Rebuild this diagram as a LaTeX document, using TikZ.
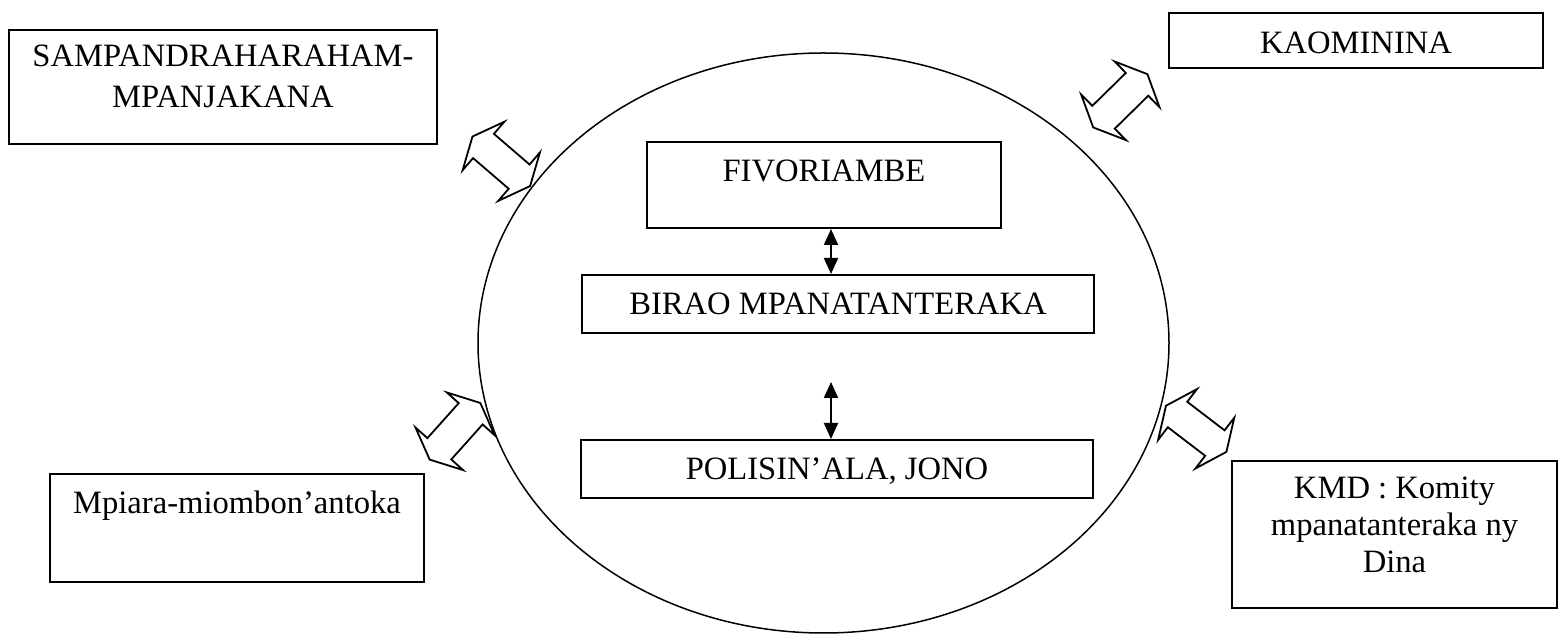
\documentclass[tikz,border=0pt]{standalone}
\usepackage{fontspec}
\setmainfont{Liberation Serif}
\usetikzlibrary{arrows.meta,shapes.geometric}
\begin{document}
\begin{tikzpicture}[x=0.5pt,y=-0.5pt,
  box/.style={draw,line width=1pt,inner sep=0pt,align=center,text height=20pt,font=\fontsize{16.3}{18.5}\selectfont},
  ring/.style={draw,ellipse,line width=0.75pt,inner sep=0pt,minimum width=345.5pt,minimum height=290pt},
  biarrow/.style={line width=1pt,{Triangle[length=8pt,width=7pt]}-{Triangle[length=8pt,width=7pt]}},
  dblarrow/.pic={\draw[line width=0.9pt] (-38,0) -- (-23.5,-32) -- (-23.5,-16) -- (23.5,-16) -- (23.5,-32) -- (38,0) -- (23.5,32) -- (23.5,16) -- (-23.5,16) -- (-23.5,32) -- cycle;}]
\useasboundingbox (0,0) rectangle (1560,640);
\node[ring] (ring) at (823.5,343) {};
\node[box,minimum width=177pt,text depth=23pt] (fivo) at (824,185) {FIVORIAMBE};
\node[box,minimum width=256pt,text depth=9pt] (birao) at (838,304) {BIRAO MPANATANTERAKA};
\node[box,minimum width=256pt,text depth=9pt] (polis) at (837,469) {POLISIN’ALA, JONO};
\node[box,minimum width=214pt,text height=39pt,text depth=18pt] (sampa) at (223,87) {SAMPANDRAHARAHAM-\\[2pt]MPANJAKANA};
\node[box,minimum width=187pt,text height=20.5pt,text depth=7pt] (kaom) at (1356,40.5) {KAOMININA};
\node[box,minimum width=187pt,text depth=34pt] (mpiara) at (237,528) {Mpiara-miombon’antoka};
\node[box,minimum width=162.5pt,text height=56pt,text depth=17.5pt] (kmd) at (1394.5,534.5) {KMD : Komity\\mpanatanteraka ny\\Dina};
\coordinate (axis) at (831,0);
\coordinate (tail) at (831,382);
\draw[biarrow] (fivo.south -| axis) -- (birao.north -| axis);
\draw[biarrow] (tail) -- (polis.north -| axis);
\pic[rotate=-40.7] at (501.3,161.3) {dblarrow};
\pic[rotate=44.5] at (1120.3,100.8) {dblarrow};
\pic[rotate=48.2] at (455,431.3) {dblarrow};
\pic[rotate=-37.4] at (1196.2,428.8) {dblarrow};
\end{tikzpicture}
\end{document}
